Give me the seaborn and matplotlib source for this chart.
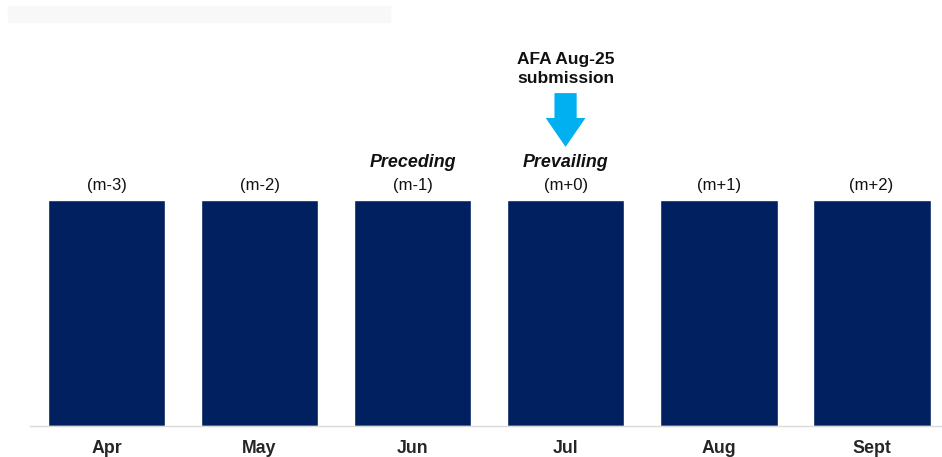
import matplotlib.pyplot as plt
import matplotlib.patches as mpatches
import pandas as pd
import seaborn as sns

# Chart data
months = ['Apr', 'May', 'Jun', 'Jul', 'Aug', 'Sept']
periods = ['(m-3)', '(m-2)', '(m-1)', '(m+0)', '(m+1)', '(m+2)']
values = [1, 1, 1, 1, 1, 1]
tags = ['', '', 'Preceding', 'Prevailing', '', '']
callout = 'AFA Aug-25\nsubmission'
callout_month = 'Jul'

df = pd.DataFrame({'month': months, 'value': values})

sns.set_style('white')
plt.rcParams['font.family'] = ['Liberation Sans', 'DejaVu Sans']

fig = plt.figure(figsize=(9.42, 4.57), dpi=100)
# faint grey band at the top-left (screenshot artifact)
fig.patches.append(mpatches.Rectangle((8 / 942, 1 - 22 / 457), 382 / 942, 16 / 457,
                                      transform=fig.transFigure, color='#f8f8f8', zorder=0))
ax = fig.add_axes([30 / 942, 31 / 457, 912 / 942, 386 / 457])

sns.barplot(data=df, x='month', y='value', color='#002060', width=0.77,
            saturation=1, ax=ax)
ax.set_xlim(-0.5, 5.46)
ax.set_ylim(0, 1.708)

for s in ['top', 'right', 'left']:
    ax.spines[s].set_visible(False)
ax.spines['bottom'].set_color('#d9d9d9')
ax.spines['bottom'].set_linewidth(1)
ax.set_yticks([])
ax.set_xlabel('')
ax.set_ylabel('')
ax.tick_params(axis='x', length=0, pad=10)
for lbl in ax.get_xticklabels():
    lbl.set_fontweight('bold')
    lbl.set_fontsize(12.8)

for i, (p, v, t) in enumerate(zip(periods, values, tags)):
    ax.text(i, v + 0.03, p, ha='center', va='bottom', fontsize=12, color='#111111')
    if t:
        ax.text(i, v + 0.13, t, ha='center', va='bottom', fontsize=12.9,
                fontweight='bold', fontstyle='italic', color='#111111')

ci = months.index(callout_month)
ax.text(ci, 1.505, callout, ha='center', va='bottom', fontsize=12.5,
        fontweight='bold', color='#111111', linespacing=1.3)
arrow = mpatches.FancyArrow(ci, 1.473, 0, -0.238, width=0.145, head_width=0.26,
                            head_length=0.128, length_includes_head=True,
                            color='#00b0f0', lw=0)
ax.add_patch(arrow)

fig.savefig('out.png')
